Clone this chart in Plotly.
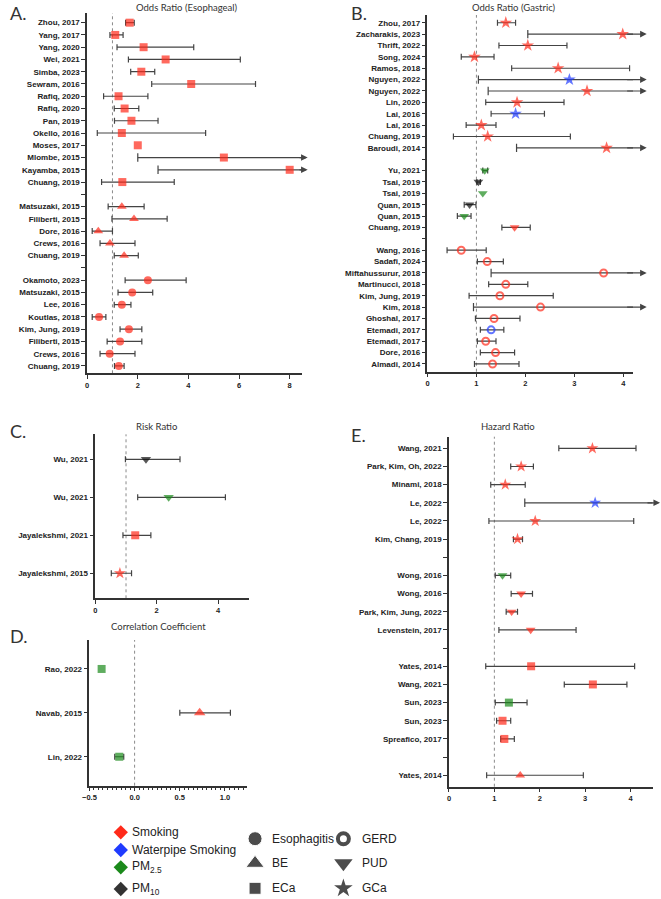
import math
import plotly.graph_objects as go

W, H = 661, 899
INF = math.inf

# ---------------- DATA ----------------
# Panel A: Odds Ratio (Esophageal)
A_study = ["Zhou, 2017", "Yang, 2017", "Yang, 2020", "Wei, 2021", "Simba, 2023", "Sewram, 2016",
           "Rafiq, 2020", "Rafiq, 2020", "Pan, 2019", "Okello, 2016", "Moses, 2017", "Mlombe, 2015",
           "Kayamba, 2015", "Chuang, 2019", "",
           "Matsuzaki, 2015", "Filiberti, 2015", "Dore, 2016", "Crews, 2016", "Chuang, 2019", "",
           "Okamoto, 2023", "Matsuzaki, 2015", "Lee, 2016", "Koutlas, 2018", "Kim, Jung, 2019",
           "Filiberti, 2015", "Crews, 2016", "Chuang, 2019"]
A_est = [1.68, 1.11, 2.23, 3.10, 2.14, 4.11, 1.24, 1.48, 1.75, 1.37, 2.00, 5.40, 8.00, 1.39, None,
         1.37, 1.85, 0.44, 0.90, 1.46, None,
         2.40, 1.78, 1.37, 0.47, 1.65, 1.30, 0.89, 1.25]
A_lo = [1.52, 0.90, 1.18, 1.63, 1.72, 2.55, 0.65, 1.07, 1.08, 0.40, None, 2.00, 2.80, 0.57, None,
        0.83, 0.98, 0.20, 0.51, 1.07, None,
        1.50, 1.22, 1.07, 0.20, 1.30, 0.79, 0.51, 1.08]
A_hi = [1.86, 1.42, 4.21, 6.05, 2.67, 6.65, 2.40, 2.04, 2.80, 4.68, None, INF, INF, 3.44, None,
        2.25, 3.16, 1.00, 1.89, 2.02, None,
        3.91, 2.59, 1.73, 0.74, 2.16, 2.16, 1.89, 1.46]
A_exposure = ["Smoking"] * 29
A_outcome = ["ECa"] * 14 + [None] + ["BE"] * 5 + [None] + ["Esophagitis"] * 8

# Panel B: Odds Ratio (Gastric)
B_study = ["Zhou, 2017", "Zacharakis, 2023", "Thrift, 2022", "Song, 2024", "Ramos, 2018",
           "Nguyen, 2022", "Nguyen, 2022", "Lin, 2020", "Lai, 2016", "Lai, 2016", "Chuang, 2019",
           "Baroudi, 2014", "",
           "Yu, 2021", "Tsai, 2019", "Tsai, 2019", "Quan, 2015", "Quan, 2015", "Chuang, 2019", "",
           "Wang, 2016", "Sadafi, 2024", "Miftahussurur, 2018", "Martinucci, 2018", "Kim, Jung, 2019",
           "Kim, 2018", "Ghoshal, 2017", "Etemadi, 2017", "Etemadi, 2017", "Dore, 2016", "Almadi, 2014"]
B_est = [1.60, 3.99, 2.05, 0.96, 2.67, 2.90, 3.26, 1.83, 1.80, 1.10, 1.23, 3.66, None,
         1.17, 1.04, 1.13, 0.86, 0.75, 1.78, None,
         0.69, 1.22, 3.60, 1.60, 1.48, 2.31, 1.36, 1.30, 1.19, 1.39, 1.33]
B_lo = [1.43, 2.05, 1.46, 0.69, 1.72, 1.04, 1.24, 1.19, 1.30, 0.79, 0.53, 1.82, None,
        1.13, 1.01, None, 0.75, 0.61, 1.52, None,
        0.40, 1.02, 1.30, 1.25, 0.85, 0.94, 0.98, 1.08, 1.02, 1.08, 0.96]
B_hi = [1.80, INF, 2.85, 1.36, 4.13, INF, INF, 2.79, 2.39, 1.40, 2.92, INF, None,
        1.23, 1.08, None, 0.99, 0.89, 2.10, None,
        1.20, 1.55, INF, 2.05, 2.57, INF, 1.89, 1.56, 1.40, 1.78, 1.87]
B_exposure = ["Smoking", "Smoking", "Smoking", "Smoking", "Smoking", "Waterpipe", "Smoking", "Smoking",
              "Waterpipe", "Smoking", "Smoking", "Smoking", None,
              "PM2.5", "PM10", "PM2.5", "PM10", "PM2.5", "Smoking", None,
              "Smoking", "Smoking", "Smoking", "Smoking", "Smoking", "Smoking", "Smoking",
              "Waterpipe", "Smoking", "Smoking", "Smoking"]
B_outcome = ["GCa"] * 12 + [None] + ["PUD"] * 6 + [None] + ["GERD"] * 11

# Panel C: Risk Ratio
C_study = ["Wu, 2021", "Wu, 2021", "Jayalekshmi, 2021", "Jayalekshmi, 2015"]
C_est = [1.65, 2.39, 1.30, 0.80]
C_lo = [0.98, 1.38, 0.90, 0.52]
C_hi = [2.76, 4.24, 1.81, 1.18]
C_exposure = ["PM10", "PM2.5", "Smoking", "Smoking"]
C_outcome = ["PUD", "PUD", "ECa", "GCa"]

# Panel D: Correlation Coefficient
D_study = ["Rao, 2022", "Navab, 2015", "Lin, 2022"]
D_est = [-0.365, 0.72, -0.17]
D_lo = [None, 0.50, -0.22]
D_hi = [None, 1.06, -0.12]
D_exposure = ["PM2.5", "Smoking", "PM2.5"]
D_outcome = ["ECa", "BE", "ECa"]

# Panel E: Hazard Ratio
E_study = ["Wang, 2021", "Park, Kim, Oh, 2022", "Minami, 2018", "Le, 2022", "Le, 2022", "Kim, Chang, 2019", "",
           "Wong, 2016", "Wong, 2016", "Park, Kim, Jung, 2022", "Levenstein, 2017", "",
           "Yates, 2014", "Wang, 2021", "Sun, 2023", "Sun, 2023", "Spreafico, 2017", "",
           "Yates, 2014"]
E_est = [3.16, 1.59, 1.24, 3.22, 1.90, 1.51, None, 1.18, 1.59, 1.38, 1.80, None,
         1.81, 3.17, 1.32, 1.18, 1.22, None, 1.57]
E_lo = [2.42, 1.36, 0.92, 1.67, 0.88, 1.42, None, 1.02, 1.37, 1.26, 1.10, None,
        0.81, 2.54, 1.02, 1.05, 1.14, None, 0.83]
E_hi = [4.12, 1.86, 1.68, INF, 4.07, 1.62, None, 1.36, 1.84, 1.51, 2.80, None,
        4.09, 3.92, 1.72, 1.36, 1.44, None, 2.96]
E_exposure = ["Smoking", "Smoking", "Smoking", "Waterpipe", "Smoking", "Smoking", None,
              "PM2.5", "Smoking", "Smoking", "Smoking", None,
              "Smoking", "Smoking", "PM2.5", "Smoking", "Smoking", None, "Smoking"]
E_outcome = ["GCa"] * 6 + [None] + ["PUD"] * 4 + [None] + ["ECa"] * 5 + [None] + ["BE"]

# Legend entries
LEG_exposure = ["Smoking", "Waterpipe Smoking", "PM<sub>2.5</sub>", "PM<sub>10</sub>"]
LEG_outcome_col1 = ["Esophagitis", "BE", "ECa"]
LEG_outcome_col2 = ["GERD", "PUD", "GCa"]

# ---------------- STYLE ----------------
COLORS = {"Smoking": "#FF2A1A", "Waterpipe": "#1F3BFF", "PM2.5": "#1B8A1B", "PM10": "#111111"}
LEG_COLORS = ["#FF2A1A", "#1F3BFF", "#1B8A1B", "#333333"]
SYMBOLS = {"Esophagitis": "circle", "BE": "triangle-up", "ECa": "square",
           "GERD": "circle-open", "PUD": "triangle-down", "GCa": "star"}
ERR_COL = "#444444"
AX_COL = "#333333"
TICK_FONT = dict(family="Liberation Sans, Arial", size=8, color="#222", weight="bold")
XTICK_FONT = dict(family="Liberation Sans, Arial", size=7.5, color="#222", weight="bold")
TITLE_FONT = dict(family="Lato, Open Sans", size=9.5, color="#333")
LETTER_FONT = dict(family="Lato, Open Sans", size=18, color="#333")
LEG_FONT = dict(family="Liberation Sans, Arial", size=12, color="#222")

# panel layout in pixel coords: x0, x1, ytop, ybottom
panels = [
    dict(k="", study=A_study, est=A_est, lo=A_lo, hi=A_hi, exp=A_exposure, out=A_outcome,
         box=(81, 298, 13, 373.3), xr=[0, 8.48], yr=[28.6, -0.79], tick0=0, dtick=2,
         ref=1, tip=8.71, sizes={"square": 8, "triangle-up": 8.5, "circle": 8}),
    dict(k="2", study=B_study, est=B_est, lo=B_lo, hi=B_hi, exp=B_exposure, out=B_outcome,
         box=(425, 632.7, 15, 371.7), xr=[0, 4.2], yr=[30.68, -0.68], tick0=0, dtick=1,
         ref=1, tip=4.48, sizes={"star": 9.5, "triangle-down": 8.5, "circle-open": 7}),
    dict(k="3", study=C_study, est=C_est, lo=C_lo, hi=C_hi, exp=C_exposure, out=C_outcome,
         box=(89.3, 244.3, 434.3, 598.3), xr=[0, 5.0], yr=[3.66, -0.66], tick0=0, dtick=2,
         ref=1, tip=None, sizes={"triangle-down": 9, "square": 8, "star": 9}),
    dict(k="4", study=D_study, est=D_est, lo=D_lo, hi=D_hi, exp=D_exposure, out=D_outcome,
         box=(83.3, 242.7, 640, 785.7), xr=[-0.5, 1.245], yr=[2.66, -0.66], tick0=-0.5, dtick=0.5,
         ref=0, tip=None, sizes={"square": 8, "triangle-up": 10}),
    dict(k="5", study=E_study, est=E_est, lo=E_lo, hi=E_hi, exp=E_exposure, out=E_outcome,
         box=(446.7, 652.7, 436.7, 786.7), xr=[0, 4.49], yr=[18.63, -0.64], tick0=0, dtick=1,
         ref=1, tip=4.65, sizes={"star": 9, "triangle-down": 8.5, "square": 8, "triangle-up": 8.5}),
]

fig = go.Figure()
annotations = []
shapes = []
layout_axes = {}

for p in panels:
    k = p["k"]
    xa, ya = "x" + k, "y" + k
    n = len(p["study"])
    rows = list(range(n))
    xmax = p["xr"][1]

    # open-ended CIs: line to axis end + arrow beyond
    lx, ly, cx, cy = [], [], [], []
    for i in rows:
        if p["est"][i] is not None and p["hi"][i] == INF:
            lx += [p["lo"][i], xmax, None]
            ly += [i, i, None]
            cx.append(p["lo"][i]); cy.append(i)
            annotations.append(dict(x=p["tip"], y=i, xref=xa, yref=ya, ax=xmax - 0.15, ay=i,
                                    axref=xa, ayref=ya, text="", showarrow=True, arrowhead=2,
                                    arrowsize=1.1, arrowwidth=1.2, arrowcolor=ERR_COL, standoff=0))
    if lx:
        fig.add_trace(go.Scatter(x=lx, y=ly, mode="lines", line=dict(color=ERR_COL, width=1.2),
                                 xaxis=xa, yaxis=ya, hoverinfo="skip"))
        fig.add_trace(go.Scatter(x=cx, y=cy, mode="markers", xaxis=xa, yaxis=ya,
                                 marker=dict(symbol="line-ns", size=6, line=dict(color=ERR_COL, width=1.2)),
                                 hoverinfo="skip"))

    # closed CIs (drawn underneath the markers)
    ex, ey, plus, minus = [], [], [], []
    for i in rows:
        e, lo, hi = p["est"][i], p["lo"][i], p["hi"][i]
        if e is None or lo is None or hi is None or hi == INF:
            continue
        ex.append(e); ey.append(i); plus.append(hi - e); minus.append(e - lo)
    fig.add_trace(go.Scatter(
        x=ex, y=ey, mode="markers", xaxis=xa, yaxis=ya, marker=dict(size=1, opacity=0),
        error_x=dict(type="data", array=plus, arrayminus=minus, symmetric=False,
                     color=ERR_COL, thickness=1.2, width=3), hoverinfo="skip"))

    # point estimates
    px, py, cols, syms, sizes, lcols, lws = [], [], [], [], [], [], []
    for i in rows:
        e = p["est"][i]
        if e is None:
            continue
        px.append(e); py.append(i)
        c = COLORS[p["exp"][i]]
        s = SYMBOLS[p["out"][i]]
        cols.append(c); syms.append(s)
        sizes.append(p["sizes"].get(s, 8))
        lcols.append(c)
        lws.append(2 if s == "circle-open" else 0)
    fig.add_trace(go.Scatter(
        x=px, y=py, mode="markers", xaxis=xa, yaxis=ya, cliponaxis=False,
        marker=dict(color=cols, symbol=syms, size=sizes, line=dict(color=lcols, width=lws)),
    ))

    x0, x1, yt, yb = p["box"]
    xax = dict(
        domain=[x0 / W, x1 / W], range=p["xr"], anchor=ya, showline=True, linecolor=AX_COL,
        linewidth=1.5, ticks="outside", ticklen=4, tickwidth=1.2, tickcolor=AX_COL,
        tickmode="linear", tick0=p["tick0"], dtick=p["dtick"],
        tickfont=XTICK_FONT, showgrid=False, zeroline=False,
    )
    if k == "4":
        xax["tickformat"] = ".1f"
        xax["minor"] = dict(tickmode="linear", tick0=-0.5, dtick=0.05, ticks="outside", ticklen=2.5,
                            tickcolor=AX_COL, tickwidth=1, showgrid=False)
    layout_axes["xaxis" + k] = xax
    layout_axes["yaxis" + k] = dict(
        domain=[1 - yb / H, 1 - yt / H], range=p["yr"], anchor=xa, showline=True, linecolor=AX_COL,
        linewidth=1.5, ticks="outside", ticklen=4, tickwidth=1.2, tickcolor=AX_COL,
        tickvals=rows, ticktext=p["study"], tickfont=TICK_FONT, showgrid=False, zeroline=False,
    )
    shapes.append(dict(type="line", xref=xa, yref=ya + " domain", x0=p["ref"], x1=p["ref"], y0=0, y1=1,
                       line=dict(color="#8a8a8a", width=1, dash="dot"), layer="below"))

# ---------- legend (drawn in pixel-coordinate overlay axis) ----------
leg_x_diamond, leg_x_text = 115, 124
leg_y_exp = [832.3, 850, 867.3, 889]
fig.add_trace(go.Scatter(x=[leg_x_diamond] * 4, y=leg_y_exp, mode="markers", xaxis="x6", yaxis="y6",
                         cliponaxis=False, marker=dict(symbol="diamond", size=11, color=LEG_COLORS),
                         hoverinfo="skip"))
for lab, yy in zip(LEG_exposure, leg_y_exp):
    annotations.append(dict(x=leg_x_text, y=yy, xref="x6", yref="y6", text=lab, showarrow=False,
                            xanchor="left", yanchor="middle", font=LEG_FONT))
leg_y_out = [838.7, 863.3, 888.3]
col1_sym = ["circle", "triangle-up", "square"]
col2_sym = ["circle-open", "triangle-down", "star"]
fig.add_trace(go.Scatter(x=[250.7] * 3, y=leg_y_out, mode="markers", xaxis="x6", yaxis="y6", cliponaxis=False,
                         marker=dict(symbol=col1_sym, size=[14, 16, 12], color="black"), hoverinfo="skip"))
fig.add_trace(go.Scatter(x=[340] * 3, y=leg_y_out, mode="markers", xaxis="x6", yaxis="y6", cliponaxis=False,
                         marker=dict(symbol=col2_sym, size=[11, 16, 14], color="black",
                                     line=dict(color="black", width=[4, 0, 0])), hoverinfo="skip"))
for lab, yy in zip(LEG_outcome_col1, leg_y_out):
    annotations.append(dict(x=265.5, y=yy, xref="x6", yref="y6", text=lab, showarrow=False,
                            xanchor="left", yanchor="middle", font=LEG_FONT))
for lab, yy in zip(LEG_outcome_col2, leg_y_out):
    annotations.append(dict(x=356.5, y=yy, xref="x6", yref="y6", text=lab, showarrow=False,
                            xanchor="left", yanchor="middle", font=LEG_FONT))

# ---------- panel titles & letters ----------
titles = [("Odds Ratio (Esophageal)", 182, 7), ("Odds Ratio (Gastric)", 512, 7),
          ("Risk Ratio", 151, 426.7), ("Correlation Coefficient", 153, 626.7), ("Hazard Ratio", 506, 426.7)]
for t, x, y in titles:
    annotations.append(dict(x=x, y=y, xref="x6", yref="y6", text=t, showarrow=False,
                            xanchor="center", yanchor="middle", font=TITLE_FONT))
letters = [("A.", 1, 0), ("B.", 346, 0), ("C.", 1, 418), ("D.", 1, 623), ("E.", 346, 422)]
for t, x, y in letters:
    annotations.append(dict(x=x, y=y, xref="x6", yref="y6", text=t, showarrow=False,
                            xanchor="left", yanchor="top", font=LETTER_FONT))

layout_axes["xaxis6"] = dict(domain=[0, 1], range=[0, W], visible=False, fixedrange=True)
layout_axes["yaxis6"] = dict(domain=[0, 1], range=[H, 0], visible=False, fixedrange=True)

fig.update_layout(
    width=W, height=H, margin=dict(l=0, r=0, t=0, b=0),
    paper_bgcolor="white", plot_bgcolor="rgba(0,0,0,0)", showlegend=False,
    annotations=annotations, shapes=shapes, **layout_axes,
)
fig.write_html("out.html")
